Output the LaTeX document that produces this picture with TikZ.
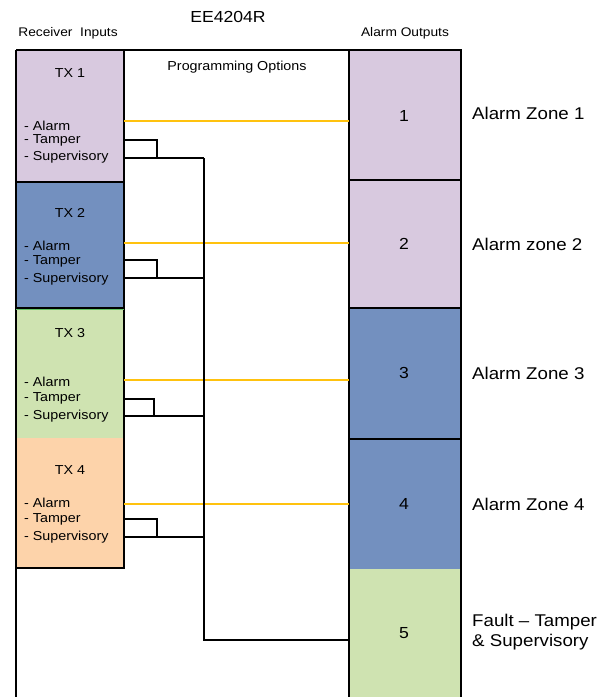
\documentclass[tikz,border=0pt]{standalone}
\usepackage{fontspec}
\setmainfont{Liberation Sans}[FakeStretch=1.1]
\definecolor{lav}{HTML}{D8C9DF}
\definecolor{bluez}{HTML}{7390BF}
\definecolor{greenz}{HTML}{CFE3B1}
\definecolor{peach}{HTML}{FDD3AA}
\definecolor{yel}{HTML}{FFC20E}
\begin{document}
\begin{tikzpicture}[x=1pt,y=-1pt,
  cell/.style={draw=none, inner sep=0pt, outer sep=0pt, anchor=north west, minimum width=#1},
  frame/.style={draw=black, line width=1.6pt, line join=miter},
  wire/.style={draw=black, line width=1.5pt, line join=miter},
  yline/.style={draw=yel, line width=1.5pt},
  small/.style={inner sep=0pt, font=\fontsize{12.5}{14}\selectfont},
  item/.style={inner sep=0pt, anchor=west, font=\fontsize{13}{15}\selectfont},
  txl/.style={inner sep=0pt, font=\fontsize{13}{15}\selectfont},
  num/.style={inner sep=0pt, font=\fontsize{16}{18}\selectfont},
  zone/.style={inner sep=0pt, anchor=west, font=\fontsize{17}{20}\selectfont, align=left}
]
\useasboundingbox (0,0) rectangle (605,697);
% left column cells
\node[cell=108pt, minimum height=132pt, fill=lav] (tx1) at (16,50) {};
\node[cell=108pt, minimum height=126pt, fill=bluez] (tx2) at (16,182) {};
\node[cell=108pt, minimum height=130pt, fill=greenz] (tx3) at (16,308) {};
\node[cell=108pt, minimum height=130pt, fill=peach] (tx4) at (16,438) {};
% right column cells
\node[cell=112pt, minimum height=130pt, fill=lav] (z1) at (349,50) {};
\node[cell=112pt, minimum height=128pt, fill=lav] (z2) at (349,180) {};
\node[cell=112pt, minimum height=131pt, fill=bluez] (z3) at (349,308) {};
\node[cell=112pt, minimum height=130pt, fill=bluez] (z4) at (349,439) {};
\node[cell=112pt, minimum height=128pt, fill=greenz] (z5) at (349,569) {};
% frame
\draw[frame] (tx1.north west) -- (z1.north east) -- (z5.south east);
\draw[frame] (tx1.north west) -- (tx1.west |- z5.south);
\draw[frame] (tx1.north east) -- (tx4.south east) -- (tx4.south west);
\draw[frame] (tx1.south west) -- (tx1.south east);
\draw[frame] (tx2.south west) -- (tx2.south east);
\draw[green!60!black!60, line width=1pt] ([yshift=-1.5pt]tx3.north west) -- ([yshift=-1.5pt]tx3.north east);
\draw[frame] (z1.north west) -- (z5.south west);
\draw[frame] (z1.south west) -- (z1.south east);
\draw[frame] (z2.south west) -- (z2.south east);
\draw[frame] (z3.south west) -- (z3.south east);
% header texts
\node[inner sep=0pt, font=\fontsize{16}{18}\selectfont] (title) at (228,16.5) {EE4204R};
\node[small] (rin) at (68,33) {Receiver\ \ Inputs};
\node[small] (aout) at (405,33) {Alarm Outputs};
\node[txl] (prog) at (237,67) {Programming Options};
% left texts
\node[txl] (l1) at (70,73) {TX 1};
\node[item] (t1a) at (24,126) {- Alarm};
\node[item] (t1t) at (24,140) {- Tamper};
\node[item] (t1s) at (24,157) {- Supervisory};
\node[txl] (l2) at (70,213) {TX 2};
\node[item] (t2a) at (24,246) {- Alarm};
\node[item] (t2t) at (24,261) {- Tamper};
\node[item] (t2s) at (24,279) {- Supervisory};
\node[txl] (l3) at (70,333) {TX 3};
\node[item] (t3a) at (24,382) {- Alarm};
\node[item] (t3t) at (24,398) {- Tamper};
\node[item] (t3s) at (24,416) {- Supervisory};
\node[txl] (l4) at (70,470) {TX 4};
\node[item] (t4a) at (24,503) {- Alarm};
\node[item] (t4t) at (24,519) {- Tamper};
\node[item] (t4s) at (24,537) {- Supervisory};
% right numbers
\node[num] (n1) at (404,116) {1};
\node[num] (n2) at (404,244) {2};
\node[num] (n3) at (404,373) {3};
\node[num] (n4) at (404,504) {4};
\node[num] (n5) at (404,633) {5};
% zone labels
\node[zone] (a1) at (472,113) {Alarm Zone 1};
\node[zone] (a2) at (472,244) {Alarm zone 2};
\node[zone] (a3) at (472,373) {Alarm Zone 3};
\node[zone] (a4) at (472,504) {Alarm Zone 4};
\node[zone, anchor=north west, font=\fontsize{17}{20}\selectfont] (a5) at (472,614) {Fault -- Tamper\\\& Supervisory};
% yellow alarm lines
\coordinate (y1) at (200,121);
\coordinate (y2) at (200,243);
\coordinate (y3) at (200,380);
\coordinate (y4) at (200,504);
\draw[yline] (tx1.east |- y1) -- (z1.west |- y1);
\draw[yline] (tx2.east |- y2) -- (z2.west |- y2);
\draw[yline] (tx3.east |- y3) -- (z3.west |- y3);
\draw[yline] (tx4.east |- y4) -- (z4.west |- y4);
% tamper / supervisory brackets
\coordinate (k1a) at (157,140); \coordinate (k1b) at (157,158);
\coordinate (k2a) at (157,260); \coordinate (k2b) at (157,278);
\coordinate (k3a) at (154,399); \coordinate (k3b) at (154,416);
\coordinate (k4a) at (157,519); \coordinate (k4b) at (157,537);
\coordinate (bustop) at (204,158);
\coordinate (busbot) at (204,640);
\draw[wire] (tx1.east |- k1a) -- (k1a) -- (k1b);
\draw[wire] (tx2.east |- k2a) -- (k2a) -- (k2b);
\draw[wire] (tx3.east |- k3a) -- (k3a) -- (k3b);
\draw[wire] (tx4.east |- k4a) -- (k4a) -- (k4b);
\draw[wire] (tx1.east |- k1b) -- (bustop |- k1b);
\draw[wire] (tx2.east |- k2b) -- (bustop |- k2b);
\draw[wire] (tx3.east |- k3b) -- (bustop |- k3b);
\draw[wire] (tx4.east |- k4b) -- (bustop |- k4b);
\draw[wire] (bustop) -- (busbot) -- (z5.west |- busbot);
\end{tikzpicture}
\end{document}
